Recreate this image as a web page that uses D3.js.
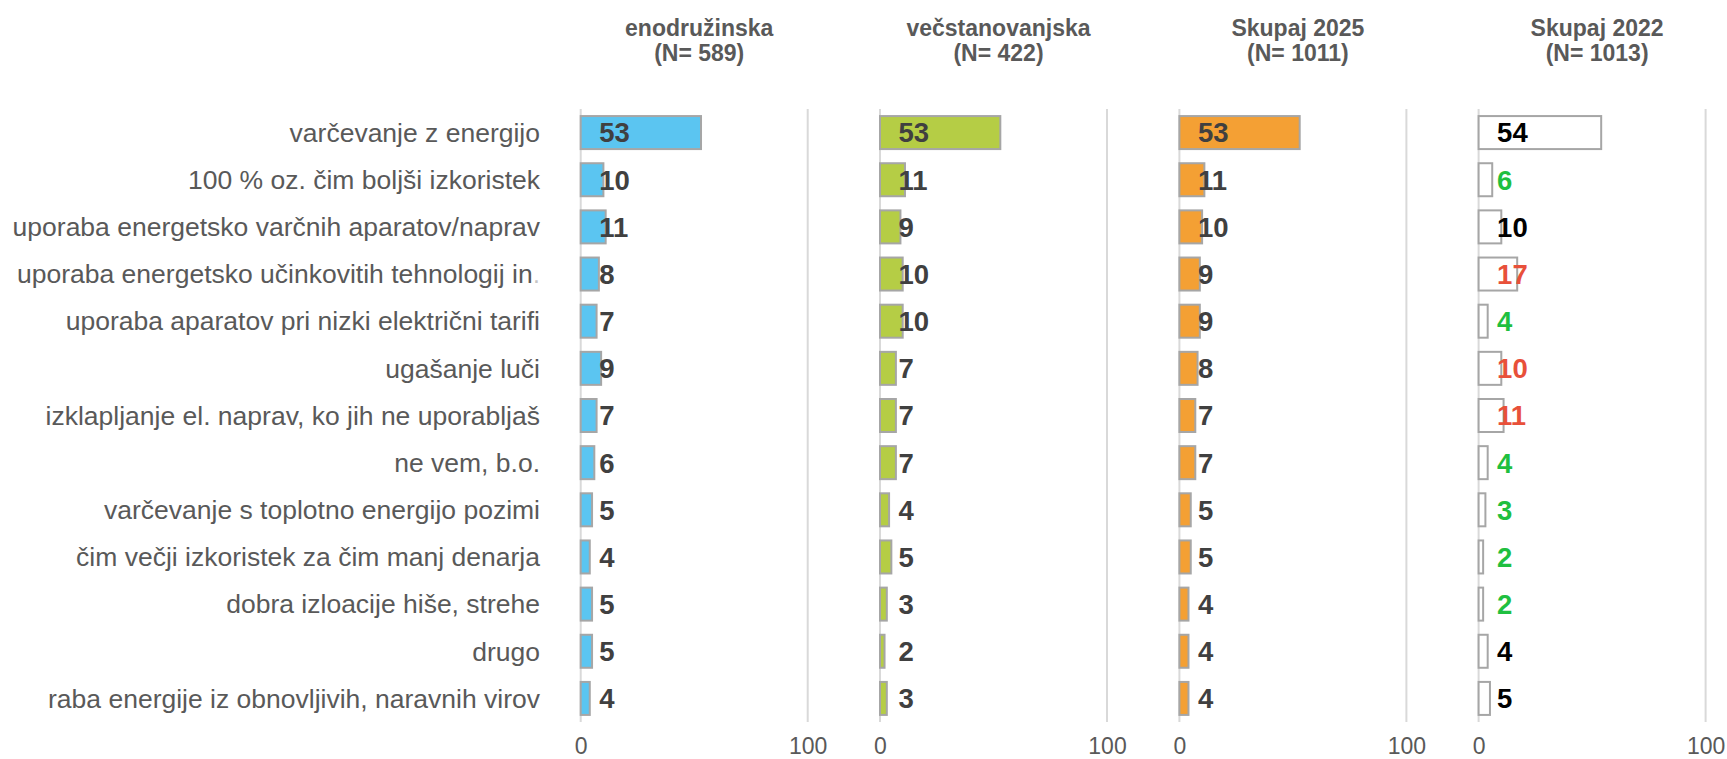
<!DOCTYPE html>
<html>
<head>
<meta charset="utf-8">
<script src="https://cdn.jsdelivr.net/npm/d3@7"></script>
<style>
  html, body { margin: 0; padding: 0; background: #ffffff; }
  svg { display: block; font-family: "Liberation Sans", Arial, sans-serif; }
</style>
</head>
<body>
<svg id="chart" width="1727" height="759"></svg>
<script>
// ---- data ----
const categories = [
  "varčevanje z energijo",
  "100 % oz. čim boljši izkoristek",
  "uporaba energetsko varčnih aparatov/naprav",
  "uporaba energetsko učinkovitih tehnologij in.",
  "uporaba aparatov pri nizki električni tarifi",
  "ugašanje luči",
  "izklapljanje el. naprav, ko jih ne uporabljaš",
  "ne vem, b.o.",
  "varčevanje s toplotno energijo pozimi",
  "čim večji izkoristek za čim manj denarja",
  "dobra izloacije hiše, strehe",
  "drugo",
  "raba energije iz obnovljivih, naravnih virov"
];
const panelTitles = ["enodružinska", "večstanovanjska", "Skupaj 2025", "Skupaj 2022"];
const panelN = ["(N= 589)", "(N= 422)", "(N= 1011)", "(N= 1013)"];
const enodruzinska    = [53, 10, 11, 8, 7, 9, 7, 6, 5, 4, 5, 5, 4];
const vecstanovanjska = [53, 11, 9, 10, 10, 7, 7, 7, 4, 5, 3, 2, 3];
const skupaj2025      = [53, 11, 10, 9, 9, 8, 7, 7, 5, 5, 4, 4, 4];
const skupaj2022      = [54, 6, 10, 17, 4, 10, 11, 4, 3, 2, 2, 4, 5];
// change marker for 2022 labels: 0 = none, -1 = lower (green), 1 = higher (red)
const change2022      = [0, -1, 0, 1, -1, 1, 1, -1, -1, -1, -1, 0, 0];
const tickValues = [0, 100];

// ---- styles ----
const fills = ["#5bc5f1", "#b5cd45", "#f4a034", "#ffffff"];
const labelColor = "#404040";
const changeColors = {"0": "#000000", "-1": "#1fbf40", "1": "#e8503a"};
const textGrey = "#595959";

const series = [enodruzinska, vecstanovanjska, skupaj2025, skupaj2022];

const svg = d3.select("#chart");

const panelStarts = [580.7, 880, 1179.4, 1478.6];
const panelWidth = 227;

const y = d3.scaleBand()
  .domain(categories)
  .range([109, 722])
  .paddingInner(0.3)
  .paddingOuter(0.15);

// category labels
svg.append("g").selectAll("text")
  .data(categories)
  .join("text")
  .attr("x", 540)
  .attr("y", d => y(d) + y.bandwidth() / 2)
  .attr("dy", "0.35em")
  .attr("text-anchor", "end")
  .attr("font-size", 26.5)
  .attr("fill", textGrey)
  .each(function(d) {
    const t = d3.select(this);
    if (d.endsWith("in.")) {
      t.append("tspan").text(d.slice(0, -1));
      t.append("tspan").attr("fill-opacity", 0.35).text(".");
    } else {
      t.text(d);
    }
  });

series.forEach((vals, p) => {
  const x = d3.scaleLinear().domain([0, 100]).range([panelStarts[p], panelStarts[p] + panelWidth]);
  const g = svg.append("g");

  // gridlines
  g.selectAll("line.grid")
    .data(tickValues)
    .join("line")
    .attr("class", "grid")
    .attr("x1", d => x(d)).attr("x2", d => x(d))
    .attr("y1", 109).attr("y2", 722)
    .attr("stroke", "#d9d9d9")
    .attr("stroke-width", 2);

  // axis tick labels
  const axis = d3.axisBottom(x).tickValues(tickValues).tickSize(0).tickPadding(0).tickFormat(d3.format("d"));
  const ax = g.append("g").attr("transform", "translate(0,738)").call(axis);
  ax.select(".domain").remove();
  ax.selectAll("text")
    .attr("font-size", 23)
    .attr("font-family", "Liberation Sans, Arial, sans-serif")
    .attr("fill", textGrey)
    .attr("dy", "0.71em")
    .attr("y", 0);

  // titles
  const cx = (x(0) + x(100)) / 2 + 5;
  g.append("text")
    .attr("x", cx).attr("y", 27.5).attr("dy", "0.35em")
    .attr("text-anchor", "middle")
    .attr("font-size", 23).attr("font-weight", "bold")
    .attr("fill", textGrey)
    .text(panelTitles[p]);
  g.append("text")
    .attr("x", cx).attr("y", 53).attr("dy", "0.35em")
    .attr("text-anchor", "middle")
    .attr("font-size", 23).attr("font-weight", "bold")
    .attr("fill", textGrey)
    .text(panelN[p]);

  // bars
  g.selectAll("rect.bar")
    .data(vals)
    .join("rect")
    .attr("class", "bar")
    .attr("x", x(0))
    .attr("y", (d, i) => y(categories[i]))
    .attr("width", d => x(d) - x(0))
    .attr("height", y.bandwidth())
    .attr("fill", fills[p])
    .attr("stroke", "#a6a6a6")
    .attr("stroke-width", 2);

  // value labels
  g.selectAll("text.val")
    .data(vals)
    .join("text")
    .attr("class", "val")
    .attr("x", x(0) + 18.5)
    .attr("y", (d, i) => y(categories[i]) + y.bandwidth() / 2)
    .attr("dy", "0.36em")
    .attr("font-size", 27.5)
    .attr("font-weight", "bold")
    .attr("fill", (d, i) => p === 3 ? changeColors[String(change2022[i])] : labelColor)
    .text(d => d);
});
</script>
</body>
</html>
